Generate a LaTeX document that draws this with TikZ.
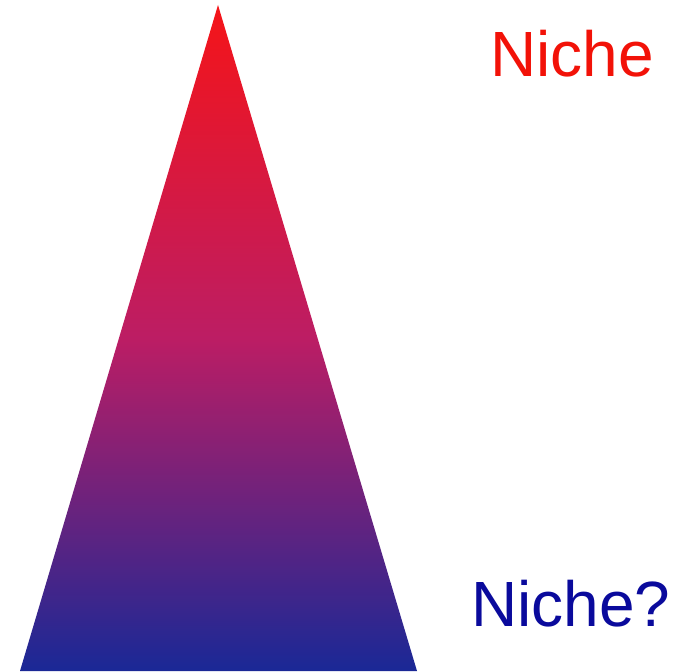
\documentclass[tikz,border=0pt]{standalone}
\usepackage{fontspec}
\setmainfont{Liberation Sans}
\usepackage{tikz}
\usetikzlibrary{positioning}
\usepackage{xcolor}
\definecolor{nRed}{HTML}{F51418}
\definecolor{nMid}{HTML}{BC1D64}
\definecolor{nBlue}{HTML}{1A2896}
\definecolor{nTextRed}{HTML}{F21208}
\definecolor{nTextBlue}{HTML}{0A0A9C}

\begin{document}
\begin{tikzpicture}[
  label/.style={inner sep=0pt, anchor=base, font=\fontsize{36.4}{40}\selectfont},
  cone/.style={top color=nRed, bottom color=nBlue, middle color=nMid}]
  \useasboundingbox (0,0) rectangle (13.58,13.42);
  % triangle
  \coordinate (apex) at (4.36,13.32);
  \coordinate (baseL) at (0.40,0);
  \coordinate (baseR) at (8.34,0);
  \shade[cone] (apex) -- (baseR) -- (baseL) -- cycle;
  % labels
  \node[label, text=nTextRed] (top) at (11.44,11.88) {Niche};
  \node[label, text=nTextBlue] (bottom) at (11.42,0.90) {Niche?};
\end{tikzpicture}
\end{document}
